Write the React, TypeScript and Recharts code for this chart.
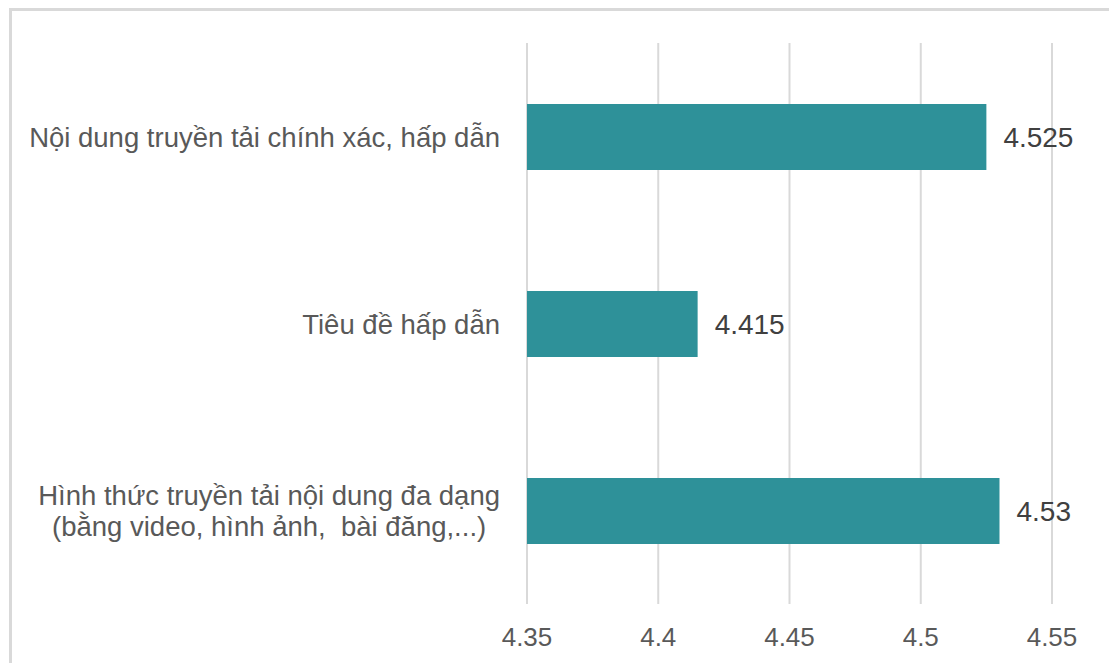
import { Bar, BarChart, CartesianGrid, LabelList, XAxis, YAxis } from "recharts";

const categories = [
	"Nội dung truyền tải chính xác, hấp dẫn",
	"Tiêu đề hấp dẫn",
	"Hình thức truyền tải nội dung đa dạng\n(bằng video, hình ảnh,  bài đăng,...)",
];
const values = [4.525, 4.415, 4.53];
const xTicks = [4.35, 4.4, 4.45, 4.5, 4.55];

const data = categories.map((name, i) => ({ name, value: values[i] }));

const FONT = "'Liberation Sans', Arial, sans-serif";

let ctx: CanvasRenderingContext2D | null = null;
function measure(text: string, size: number) {
	if (!ctx) ctx = document.createElement("canvas").getContext("2d");
	if (!ctx) return text.length * size * 0.5;
	ctx.font = `${size}px 'Liberation Sans'`;
	return ctx.measureText(text).width;
}

// right-aligned block, lines centred on each other (like Excel)
function CategoryTick(props: any) {
	const { x, y, payload } = props;
	const lines: string[] = String(payload.value).split("\n");
	const size = 27.5;
	const widest = Math.max(...lines.map((l) => measure(l, size)));
	const right = x - 19;
	const cx = right - widest / 2;
	const lineH = 31;
	const startY = y - ((lines.length - 1) * lineH) / 2;
	return (
		<text
			fill="#595959"
			fontSize={size}
			fontFamily={FONT}
			textAnchor="middle"
			dominantBaseline="central"
		>
			{lines.map((l, i) => (
				<tspan key={i} x={cx} y={startY + i * lineH} style={{ whiteSpace: "pre" }}>
					{l}
				</tspan>
			))}
		</text>
	);
}

export default function App() {
	return (
		<div
			style={{
				position: "fixed",
				left: 0,
				top: 0,
				width: 1109,
				height: 663,
				overflow: "hidden",
				background: "#fff",
			}}
		>
			<div
				style={{
					position: "absolute",
					left: 9,
					top: 8,
					width: 1200,
					height: 800,
					border: "3px solid #d9d9d9",
				}}
			/>
			<div style={{ position: "absolute", left: 0, top: 0 }}>
				<BarChart
					width={1109}
					height={663}
					data={data}
					layout="vertical"
					margin={{ top: 43, right: 57, left: 0, bottom: 0 }}
				>
					<CartesianGrid
						horizontal={false}
						stroke="#d9d9d9"
						strokeWidth={2}
					/>
					<XAxis
						type="number"
						domain={[4.35, 4.55]}
						ticks={xTicks}
						allowDataOverflow
						height={59}
						axisLine={false}
						tickLine={false}
						tickMargin={18}
						interval={0}
						tickFormatter={(v) => `${v}`}
						tick={{ fill: "#595959", fontSize: 26, fontFamily: FONT }}
					/>
					<YAxis
						type="category"
						dataKey="name"
						width={527}
						axisLine={false}
						tickLine={false}
						interval={0}
						tick={<CategoryTick />}
					/>
					<Bar
						dataKey="value"
						fill="#2e9199"
						barSize={66}
						isAnimationActive={false}
					>
						<LabelList
							dataKey="value"
							position="right"
							offset={17}
							fill="#404040"
							fontSize={28}
							fontFamily={FONT}
						/>
					</Bar>
				</BarChart>
			</div>
		</div>
	);
}
